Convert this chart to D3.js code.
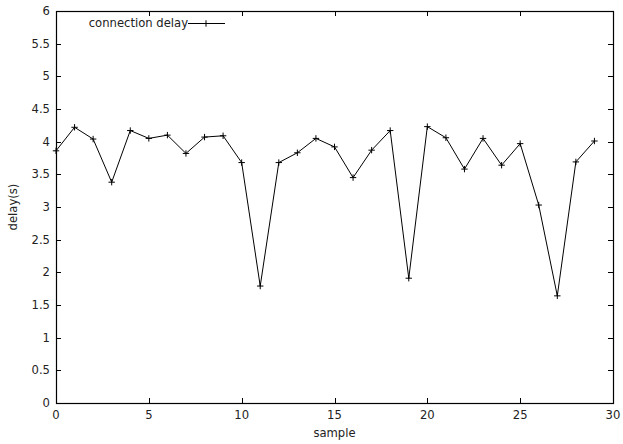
<!DOCTYPE html>
<html><head><meta charset="utf-8">
<script src="https://cdn.jsdelivr.net/npm/d3@7"></script>
<style>body{margin:0;background:#fff;} svg{display:block;}</style>
</head><body><svg id="c" width="623" height="444"></svg>
<script>
const samples = d3.range(0, 30);
const delays = [3.86, 4.22, 4.04, 3.38, 4.17, 4.05, 4.10, 3.82, 4.07, 4.09,
                3.68, 1.79, 3.68, 3.83, 4.05, 3.92, 3.45, 3.87, 4.17, 1.91,
                4.23, 4.06, 3.58, 4.05, 3.64, 3.97, 3.03, 1.64, 3.69, 4.01];
const xTicks = [0, 5, 10, 15, 20, 25, 30];
const yTicks = [0, 0.5, 1, 1.5, 2, 2.5, 3, 3.5, 4, 4.5, 5, 5.5, 6];
const seriesName = "connection delay";
const xTitle = "sample", yTitle = "delay(s)";

const L = 56, R = 613, T = 11, B = 403;
const svg = d3.select("#c");
const font = "DejaVu Sans, sans-serif", fs = 11.6, tc = "#222";
const x = d3.scaleLinear().domain([0, 30]).range([L, R]);
const y = d3.scaleLinear().domain([0, 6]).range([B, T]);
const tl = 5;

// ticks
const g = svg.append("g").attr("stroke", "#000").attr("stroke-width", 1);
xTicks.forEach(v => {
  const px = Math.round(x(v)) + 0.5;
  g.append("line").attr("x1", px).attr("x2", px).attr("y1", B).attr("y2", B - tl);
  g.append("line").attr("x1", px).attr("x2", px).attr("y1", T).attr("y2", T + tl);
});
yTicks.forEach(v => {
  const py = Math.round(y(v)) + 0.5;
  g.append("line").attr("x1", L).attr("x2", L + tl).attr("y1", py).attr("y2", py);
  g.append("line").attr("x1", R).attr("x2", R - tl).attr("y1", py).attr("y2", py);
});
svg.append("rect").attr("x", L + 0.5).attr("y", T + 0.5).attr("width", R - L).attr("height", B - T)
  .attr("fill", "none").attr("stroke", "#000").attr("stroke-width", 1.2);

// tick labels
xTicks.forEach(v => {
  svg.append("text").attr("x", x(v)).attr("y", B + 16).attr("text-anchor", "middle")
    .attr("font-family", font).attr("font-size", fs).attr("fill", tc).text(v);
});
yTicks.forEach(v => {
  svg.append("text").attr("x", L - 6).attr("y", y(v) + 4).attr("text-anchor", "end")
    .attr("font-family", font).attr("font-size", fs).attr("fill", tc).text(v);
});
svg.append("text").attr("x", (L + R) / 2).attr("y", 437).attr("text-anchor", "middle")
  .attr("font-family", font).attr("font-size", fs).attr("fill", tc).text(xTitle);
svg.append("text").attr("transform", `translate(17,${(T + B) / 2}) rotate(-90)`).attr("text-anchor", "middle")
  .attr("font-family", font).attr("font-size", fs).attr("fill", tc).text(yTitle);

// line
const line = d3.line().x((d, i) => x(samples[i])).y(d => y(d));
svg.append("path").datum(delays).attr("d", line).attr("fill", "none").attr("stroke", "#000").attr("stroke-width", 1);
const ms = 3.2;
delays.forEach((d, i) => {
  const px = x(samples[i]), py = y(d);
  svg.append("path").attr("d", `M${px - ms},${py}H${px + ms}M${px},${py - ms}V${py + ms}`)
    .attr("stroke", "#000").attr("stroke-width", 1);
});

// legend
const ly = 23;
svg.append("text").attr("x", 188).attr("y", ly + 4).attr("text-anchor", "end")
  .attr("font-family", font).attr("font-size", fs).attr("fill", tc).text(seriesName);
svg.append("line").attr("x1", 188).attr("x2", 225).attr("y1", ly + 0.5).attr("y2", ly + 0.5).attr("stroke", "#000");
svg.append("path").attr("d", `M${206 - ms},${ly + 0.5}H${206 + ms}M${206},${ly + 0.5 - ms}V${ly + 0.5 + ms}`).attr("stroke", "#000");
</script></body></html>
